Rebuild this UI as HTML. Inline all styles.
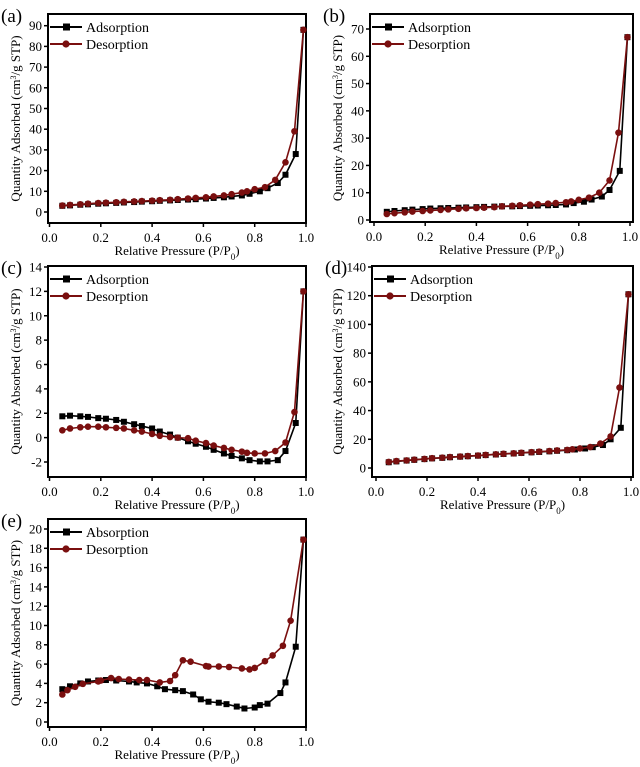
<!DOCTYPE html>
<html><head><meta charset="utf-8"><style>
html,body{margin:0;padding:0;background:#fff;}
svg{display:block;font-family:"Liberation Serif",serif;}
</style></head><body>
<svg id="fig" width="640" height="767" viewBox="0 0 640 767"></svg>
<script>
const xTicks=[0,0.2,0.4,0.6,0.8,1.0];
const xTickLabels=["0.0","0.2","0.4","0.6","0.8","1.0"];
const adsX=[0.05,0.08,0.12,0.15,0.19,0.22,0.26,0.29,0.33,0.36,0.40,0.43,0.47,0.50,0.54,0.57,0.61,0.64,0.68,0.71,0.75,0.78,0.82,0.85,0.89,0.92,0.96,0.99];
const desX=[0.05,0.08,0.12,0.15,0.19,0.22,0.26,0.29,0.33,0.36,0.40,0.43,0.47,0.50,0.54,0.57,0.61,0.64,0.68,0.71,0.75,0.77,0.80,0.84,0.88,0.92,0.955,0.99];
const aAds=[3,3.2,3.5,3.7,4,4.2,4.4,4.6,4.8,5,5.2,5.4,5.6,5.8,6,6.2,6.5,6.8,7.1,7.5,8,8.8,10,11.5,14,18,28,88];
const aDes=[3.1,3.4,3.7,4,4.3,4.5,4.7,4.9,5.1,5.3,5.5,5.7,5.9,6.2,6.5,6.8,7.1,7.5,8,8.6,9.4,10,11,12,15.5,24,39,88];
const bAds=[3,3.3,3.6,3.8,4,4.2,4.3,4.4,4.5,4.6,4.7,4.8,4.9,5,5,5.1,5.2,5.3,5.4,5.5,5.7,6.2,6.7,7.5,8.6,11,18,67];
const bDes=[2.2,2.5,2.8,3.1,3.3,3.5,3.7,3.9,4.1,4.3,4.4,4.5,4.7,5,5.2,5.4,5.6,5.8,6,6.2,6.5,6.8,7.4,8.2,10,14.5,32,67];
const cAds=[1.75,1.8,1.75,1.7,1.6,1.55,1.45,1.3,1.1,0.95,0.75,0.5,0.25,0,-0.3,-0.5,-0.75,-1,-1.3,-1.5,-1.7,-1.85,-1.95,-1.95,-1.85,-1.1,1.2,12];
const cDes=[0.6,0.75,0.85,0.9,0.9,0.85,0.8,0.75,0.6,0.5,0.3,0.15,0.05,0,-0.05,-0.25,-0.45,-0.65,-0.85,-1,-1.15,-1.25,-1.3,-1.3,-1.1,-0.4,2.1,12];
const dAds=[4,4.6,5.2,5.7,6.2,6.7,7.1,7.5,7.9,8.2,8.6,9,9.4,9.8,10.1,10.5,10.9,11.2,11.6,12,12.4,12.9,13.6,14.5,16,20,28,121];
const dDes=[4.2,4.8,5.3,5.8,6.3,6.8,7.2,7.6,8,8.3,8.7,9.1,9.5,9.9,10.2,10.6,11,11.4,11.8,12.2,12.6,13,13.6,14.6,17,22,56,121];
const eAdsX=[0.05,0.08,0.12,0.15,0.19,0.22,0.26,0.31,0.34,0.38,0.42,0.45,0.49,0.52,0.56,0.59,0.62,0.66,0.69,0.73,0.76,0.80,0.82,0.85,0.90,0.92,0.96,0.99];
const eAds=[3.4,3.7,4,4.2,4.3,4.35,4.3,4.2,4.1,4,3.7,3.4,3.3,3.2,2.85,2.35,2.1,2,1.85,1.6,1.4,1.5,1.75,1.9,3,4.1,7.8,18.9];
const eDesX=[0.05,0.07,0.10,0.13,0.19,0.20,0.24,0.27,0.31,0.35,0.38,0.43,0.47,0.49,0.52,0.55,0.61,0.62,0.66,0.70,0.75,0.78,0.80,0.84,0.87,0.91,0.94,0.99];
const eDes=[2.85,3.3,3.65,3.95,4.2,4.3,4.55,4.45,4.4,4.35,4.35,4.1,4.25,4.85,6.4,6.25,5.8,5.75,5.75,5.7,5.55,5.45,5.6,6.3,6.9,7.9,10.5,18.9];
const yTicksA=[0,10,20,30,40,50,60,70,80,90];
const yTicksB=[0,10,20,30,40,50,60,70];
const yTicksC=[-2,0,2,4,6,8,10,12,14];
const yTicksD=[0,20,40,60,80,100,120,140];
const yTicksE=[0,2,4,6,8,10,12,14,16,18,20];

const NS="http://www.w3.org/2000/svg";
const svg=document.getElementById('fig');
function mk(tag,attrs,parent,text){const e=document.createElementNS(NS,tag);for(const k in attrs)e.setAttribute(k,attrs[k]);if(text!==undefined)e.textContent=text;(parent||svg).appendChild(e);return e;}

function panel(cfg){
  const g=mk('g',{});
  
  
  const xs=v=>cfg.x0+(cfg.x1-cfg.x0)*v;
  const ys=v=>cfg.yb+(cfg.yt-cfg.yb)*(v-cfg.vb)/(cfg.vt-cfg.vb);
  const fr=mk('rect',{x:cfg.fl,y:cfg.ft,width:cfg.fr-cfg.fl,height:cfg.fb-cfg.ft,fill:'none',stroke:'#000','stroke-width':2},g);
  
  
  xTicks.forEach((t,i)=>{
    const x=xs(t);
    mk('line',{x1:x,x2:x,y1:cfg.fb,y2:cfg.fb+4,stroke:'#000','stroke-width':1.5},g);
    const tl=mk('text',{x:x,y:cfg.fb+19,'font-size':13,'text-anchor':'middle'},g,xTickLabels[i]);
    
    
  });
  cfg.yticks.forEach(t=>{
    const y=ys(t);
    mk('line',{x1:cfg.fl-4,x2:cfg.fl,y1:y,y2:y,stroke:'#000','stroke-width':1.5},g);
    const tl=mk('text',{x:cfg.fl-6,y:y+4.5,'font-size':13,'text-anchor':'end'},g,String(t));
    
    
  });
  const xl=mk('text',{x:(cfg.fl+cfg.fr)/2,y:cfg.fb+32,'font-size':13,'text-anchor':'middle'},g);
  
  
  xl.innerHTML='Relative Pressure (P/P<tspan baseline-shift="sub" font-size="9">0</tspan>)';
  const yl=mk('text',{transform:`translate(${cfg.ylx},${(cfg.ft+cfg.fb)/2}) rotate(-90)`,'font-size':13,'text-anchor':'middle'},g);
  
  
  yl.innerHTML=cfg.ylab+' (cm<tspan baseline-shift="super" font-size="8">3</tspan>/g STP)';
  const pl=mk('text',{x:cfg.fl-47,y:cfg.ft+8,'font-size':19},g,'('+cfg.id+')');
  
  
  function series(X,Y,color,shape,name){
    const sg=mk('g',{},g);
    
    
    mk('polyline',{points:X.map((x,i)=>xs(x)+','+ys(Y[i])).join(' '),fill:'none',stroke:color,'stroke-width':1.6},sg);
    X.forEach((x,i)=>{
      let m;
      if(shape==='sq') m=mk('rect',{x:xs(x)-3,y:ys(Y[i])-3,width:6,height:6,fill:color},sg);
      else m=mk('circle',{cx:xs(x),cy:ys(Y[i]),r:3.3,fill:color},sg);
      
      
    });
  }
  series(cfg.adsX,cfg.ads,'#000','sq','adsorption-series');
  series(cfg.desX,cfg.des,'#7a0f0f','ci','desorption-series');
  const lg=mk('g',{},g);
  
  
  const lx=cfg.fl+2, ly=cfg.ft+13;
  mk('line',{x1:lx,x2:lx+32,y1:ly,y2:ly,stroke:'#000','stroke-width':2},lg);
  mk('rect',{x:lx+13,y:ly-3.5,width:7,height:7,fill:'#000'},lg);
  mk('text',{x:lx+36,y:ly+5,'font-size':14},lg,cfg.adsName);
  mk('line',{x1:lx,x2:lx+32,y1:ly+17,y2:ly+17,stroke:'#7a0f0f','stroke-width':2},lg);
  mk('circle',{cx:lx+16,cy:ly+17,r:3.6,fill:'#7a0f0f'},lg);
  mk('text',{x:lx+36,y:ly+22,'font-size':14},lg,'Desorption');
}
panel({id:'a',fl:48,fr:306,ft:14,fb:223,x0:49.5,x1:306,yt:25.7,yb:212,vt:90,vb:0,yticks:yTicksA,ylx:20,ylab:'Quantity Adsorbed',adsX:adsX,ads:aAds,desX:desX,des:aDes,adsName:'Adsorption'});
panel({id:'b',fl:370,fr:633,ft:14,fb:222,x0:374,x1:630,yt:29,yb:220,vt:70,vb:0,yticks:yTicksB,ylx:342,ylab:'Quantity Absorbed',adsX:adsX,ads:bAds,desX:desX,des:bDes,adsName:'Adsorption'});
panel({id:'c',fl:48,fr:306,ft:266,fb:477,x0:49.5,x1:306,yt:267,yb:462,vt:14,vb:-2,yticks:yTicksC,ylx:20,ylab:'Quantity Absorbed',adsX:adsX,ads:cAds,desX:desX,des:cDes,adsName:'Adsorption'});
panel({id:'d',fl:372,fr:633,ft:266,fb:477,x0:376,x1:631,yt:267,yb:468,vt:140,vb:0,yticks:yTicksD,ylx:342,ylab:'Quantity Adsorbed',adsX:adsX,ads:dAds,desX:desX,des:dDes,adsName:'Adsorption'});
panel({id:'e',fl:48,fr:306,ft:519,fb:727,x0:49.5,x1:306,yt:529,yb:722,vt:20,vb:0,yticks:yTicksE,ylx:20,ylab:'Quantity Adsorbed',adsX:eAdsX,ads:eAds,desX:eDesX,des:eDes,adsName:'Absorption'});
</script>
</body></html>
